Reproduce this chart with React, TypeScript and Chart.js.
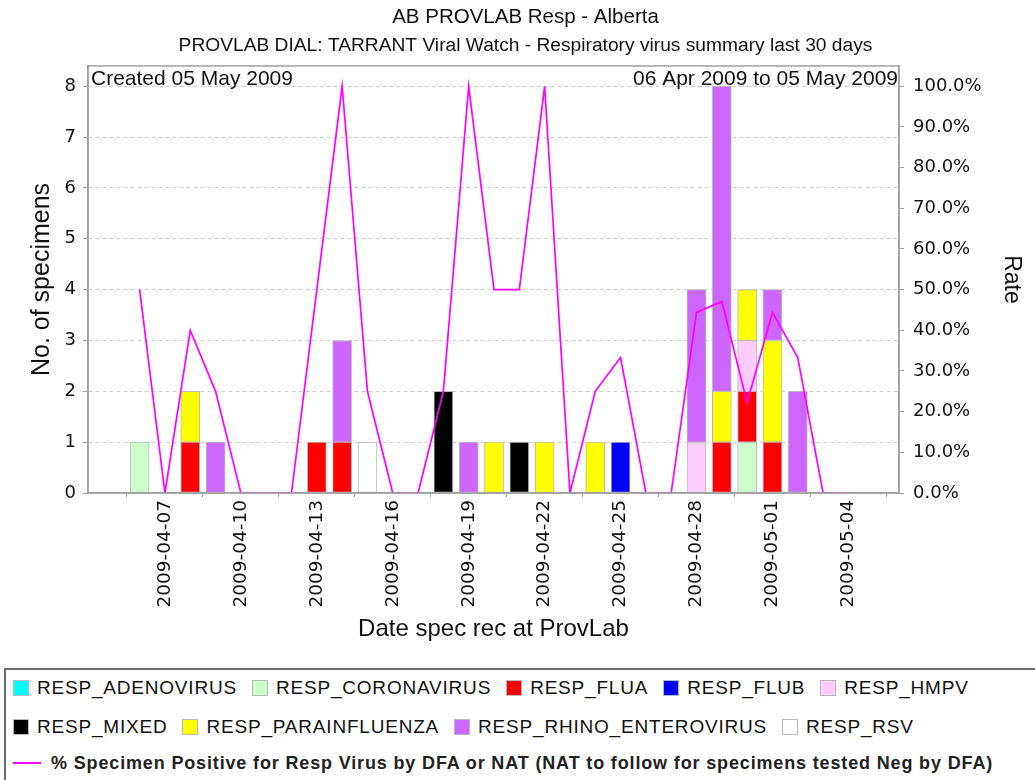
import React, { useEffect, useRef } from "react";
import { Chart, registerables } from "chart.js";

Chart.register(...registerables);

const dates = [
  "2009-04-06", "2009-04-07", "2009-04-08", "2009-04-09", "2009-04-10",
  "2009-04-11", "2009-04-12", "2009-04-13", "2009-04-14", "2009-04-15",
  "2009-04-16", "2009-04-17", "2009-04-18", "2009-04-19", "2009-04-20",
  "2009-04-21", "2009-04-22", "2009-04-23", "2009-04-24", "2009-04-25",
  "2009-04-26", "2009-04-27", "2009-04-28", "2009-04-29", "2009-04-30",
  "2009-05-01", "2009-05-02", "2009-05-03", "2009-05-04", "2009-05-05",
];

const dateTickLabels = [
  "2009-04-07", "2009-04-10", "2009-04-13", "2009-04-16", "2009-04-19",
  "2009-04-22", "2009-04-25", "2009-04-28", "2009-05-01", "2009-05-04",
];

const adenovirus    = [0,0,0,0,0, 0,0,0,0,0, 0,0,0,0,0, 0,0,0,0,0, 0,0,0,0,0, 0,0,0,0,0];
const coronavirus   = [1,0,0,0,0, 0,0,0,0,0, 0,0,0,0,0, 0,0,0,0,0, 0,0,0,0,1, 0,0,0,0,0];
const flua          = [0,0,1,0,0, 0,0,1,1,0, 0,0,0,0,0, 0,0,0,0,0, 0,0,0,1,1, 1,0,0,0,0];
const flub          = [0,0,0,0,0, 0,0,0,0,0, 0,0,0,0,0, 0,0,0,0,1, 0,0,0,0,0, 0,0,0,0,0];
const hmpv          = [0,0,0,0,0, 0,0,0,0,0, 0,0,0,0,0, 0,0,0,0,0, 0,0,1,0,1, 0,0,0,0,0];
const mixed         = [0,0,0,0,0, 0,0,0,0,0, 0,0,2,0,0, 1,0,0,0,0, 0,0,0,0,0, 0,0,0,0,0];
const parainfluenza = [0,0,1,0,0, 0,0,0,0,0, 0,0,0,0,1, 0,1,0,1,0, 0,0,0,1,1, 2,0,0,0,0];
const rhinoEntero   = [0,0,0,1,0, 0,0,0,2,0, 0,0,0,1,0, 0,0,0,0,0, 0,0,3,6,0, 1,2,0,0,0];
const rsv           = [0,0,0,0,0, 0,0,0,0,1, 0,0,0,0,0, 0,0,0,0,0, 0,0,0,0,0, 0,0,0,0,0];

const ratePct = [
  50, 0, 40, 25, 0, 0, 0, 50, 100, 25,
  0, 0, 25, 100, 50, 50, 100, 0, 25, 33.3,
  0, 0, 44.4, 47.1, 22.2, 44.4, 33.3, 0, 0, null,
];

const seriesNames = [
  "RESP_ADENOVIRUS", "RESP_CORONAVIRUS", "RESP_FLUA", "RESP_FLUB", "RESP_HMPV",
  "RESP_MIXED", "RESP_PARAINFLUENZA", "RESP_RHINO_ENTEROVIRUS", "RESP_RSV",
];
const seriesValues = [adenovirus, coronavirus, flua, flub, hmpv, mixed, parainfluenza, rhinoEntero, rsv];
const seriesColors = [
  "#00ffff", "#ccffcc", "#ff0000", "#0000ff", "#ffccff",
  "#000000", "#ffff00", "#cc66ff", "#ffffff",
];
const lineName = "% Specimen Positive for Resp Virus by DFA or NAT (NAT to follow for specimens tested Neg by DFA)";
const lineColor = "#ff00ff";

const countTicks = [0, 1, 2, 3, 4, 5, 6, 7, 8];
const rateTicks = [0, 10, 20, 30, 40, 50, 60, 70, 80, 90, 100];

const titleText = "AB PROVLAB Resp - Alberta";
const subtitleText = "PROVLAB DIAL: TARRANT Viral Watch - Respiratory virus summary last 30 days";
const createdText = "Created 05 May 2009";
const rangeText = "06 Apr 2009 to 05 May 2009";

const FONT = "'Liberation Sans', Arial, sans-serif";
const TICKFONT = "'DejaVu Sans', sans-serif";

const framePlugin = {
  id: "frameAndNotes",
  afterDraw(chart: any) {
    const { ctx, chartArea } = chart;
    const { left, top, right, bottom } = chartArea;
    ctx.save();
    ctx.strokeStyle = "#a0a0a0";
    ctx.lineWidth = 1.5;
    ctx.strokeRect(left, top, right - left, bottom - top);
    ctx.fillStyle = "#111";
    ctx.font = `21px ${FONT}`;
    ctx.textBaseline = "middle";
    ctx.textAlign = "left";
    ctx.fillText(createdText, left + 3, top + 13);
    ctx.textAlign = "right";
    ctx.fillText(rangeText, right - 1, top + 13);
    ctx.restore();
  },
};

export default function App() {
  const canvasRef = useRef<HTMLCanvasElement | null>(null);

  useEffect(() => {
    const canvas = canvasRef.current;
    if (!canvas) return;

    const barSets = seriesNames.map((name, s) => ({
      type: "bar" as const,
      label: name,
      data: seriesValues[s]
        .map((v, i) => ({ x: i, y: v }))
        .filter((p) => p.y > 0),
      backgroundColor: seriesColors[s],
      borderColor: "#b8b8b8",
      borderWidth: 1,
      borderSkipped: false,
      barThickness: 19,
      yAxisID: "y",
      order: 1,
    }));

    const lineSet = {
      type: "line" as const,
      label: lineName,
      data: ratePct
        .map((v, i) => ({ x: i, y: v }))
        .filter((p) => p.y !== null),
      borderColor: lineColor,
      borderWidth: 1.7,
      pointRadius: 0,
      tension: 0,
      fill: false,
      yAxisID: "y1",
      order: 0,
    };

    const tickVals = dateTickLabels.map((d) => dates.indexOf(d));

    const chart = new Chart(canvas, {
      type: "bar",
      data: { datasets: [...barSets, lineSet] as any },
      options: {
        animation: false,
        responsive: false,
        maintainAspectRatio: false,
        layout: { padding: { left: 16, right: 0, top: 0, bottom: 0 } },
        plugins: {
          legend: { display: false },
          tooltip: { enabled: false },
          title: {
            display: true,
            text: titleText,
            color: "#111",
            font: { family: FONT, size: 20.5, weight: "normal" },
            padding: { top: 5.5, bottom: 3 },
          },
          subtitle: {
            display: true,
            text: subtitleText,
            color: "#111",
            font: { family: FONT, size: 19.2, weight: "normal" },
            padding: { top: 1, bottom: 8.8 },
          },
        },
        scales: {
          x: {
            type: "linear",
            min: -2.04,
            max: 30,
            stacked: true,
            offset: false,
            afterBuildTicks: (s: any) => {
              s.ticks = tickVals.map((v) => ({ value: v }));
            },
            afterFit: (s: any) => {
              s.height = 167;
            },
            ticks: {
              autoSkip: false,
              maxRotation: 90,
              minRotation: 90,
              padding: 3,
              color: "#111",
              font: { family: TICKFONT, size: 18.5 },
              callback: (v: any) => dates[Math.round(Number(v))] ?? "",
            },
            grid: { drawOnChartArea: false, drawTicks: true, tickLength: 4, color: "#a0a0a0" },
            border: { display: true, color: "#a0a0a0", width: 1.5 },
            title: {
              display: true,
              text: "Date spec rec at ProvLab",
              color: "#111",
              font: { family: FONT, size: 24 },
              padding: { top: 0, bottom: 16 },
            },
          },
          y: {
            type: "linear",
            position: "left",
            min: 0,
            max: 8.4,
            stacked: true,
            afterBuildTicks: (s: any) => {
              s.ticks = countTicks.map((v) => ({ value: v }));
            },
            afterFit: (s: any) => {
              s.width = 72;
            },
            ticks: {
              padding: 7,
              color: "#111",
              font: { family: TICKFONT, size: 18 },
            },
            grid: {
              color: "#cfcfcf",
              lineWidth: 1,
              drawTicks: true,
              tickLength: 5,
              tickColor: "#a0a0a0",
            },
            border: { display: true, color: "#a0a0a0", width: 1.5, dash: [4, 3] },
            title: {
              display: true,
              text: "No. of specimens",
              color: "#111",
              font: { family: FONT, size: 25 },
              padding: { top: 11, bottom: 0 },
            },
          },
          y1: {
            type: "linear",
            position: "right",
            min: 0,
            max: 105,
            afterBuildTicks: (s: any) => {
              s.ticks = rateTicks.map((v) => ({ value: v }));
            },
            afterFit: (s: any) => {
              s.width = 136;
            },
            ticks: {
              padding: 9,
              color: "#111",
              font: { family: TICKFONT, size: 18 },
              callback: (v: any) => `${Number(v).toFixed(1)}%`,
            },
            grid: {
              drawOnChartArea: false,
              drawTicks: true,
              tickLength: 5,
              color: "#a0a0a0",
            },
            border: { display: true, color: "#a0a0a0", width: 1.5 },
            title: {
              display: true,
              text: "Rate",
              color: "#111",
              font: { family: FONT, size: 23 },
              padding: { top: 10.2, bottom: 0 },
            },
          },
        },
      } as any,
      plugins: [framePlugin],
    });

    return () => chart.destroy();
  }, []);

  const legendFont: React.CSSProperties = {
    fontFamily: FONT,
    fontSize: 19,
    letterSpacing: "0.8px",
    color: "#111",
    whiteSpace: "nowrap",
  };
  const lineLegendFont: React.CSSProperties = {
    fontFamily: FONT,
    fontSize: 18,
    fontWeight: "bold",
    letterSpacing: "0.85px",
    color: "#222",
    whiteSpace: "nowrap",
  };
  const swatch = (color: string) => (
    <span
      style={{
        display: "inline-block",
        width: 14,
        height: 14,
        background: color,
        border: "1px solid #b8b8b8",
        marginRight: 8,
        flex: "0 0 auto",
      }}
    />
  );
  const item = (s: number) => (
    <span key={s} style={{ display: "inline-flex", alignItems: "center", marginRight: 15 }}>
      {swatch(seriesColors[s])}
      <span style={legendFont}>{seriesNames[s]}</span>
    </span>
  );
  const rowStyle = (top: number): React.CSSProperties => ({
    position: "absolute",
    left: 7,
    top,
    height: 24,
    display: "flex",
    alignItems: "center",
  });

  return (
    <div style={{ position: "absolute", left: 0, top: 0, width: 1035, height: 780, background: "#fff", overflow: "hidden" }}>
      <canvas ref={canvasRef} width={1035} height={660} style={{ display: "block", width: 1035, height: 660 }} />
      <div
        style={{
          position: "absolute",
          left: 4,
          top: 668,
          width: 1040,
          height: 140,
          border: "2px solid #6a6a6a",
          boxSizing: "border-box",
        }}
      >
        <div style={rowStyle(6)}>{[0, 1, 2, 3, 4].map(item)}</div>
        <div style={rowStyle(45)}>{[5, 6, 7, 8].map(item)}</div>
        <div style={rowStyle(81)}>
          <span style={{ display: "inline-block", width: 28, height: 2, background: lineColor, marginRight: 10 }} />
          <span style={lineLegendFont}>{lineName}</span>
        </div>
      </div>
    </div>
  );
}
